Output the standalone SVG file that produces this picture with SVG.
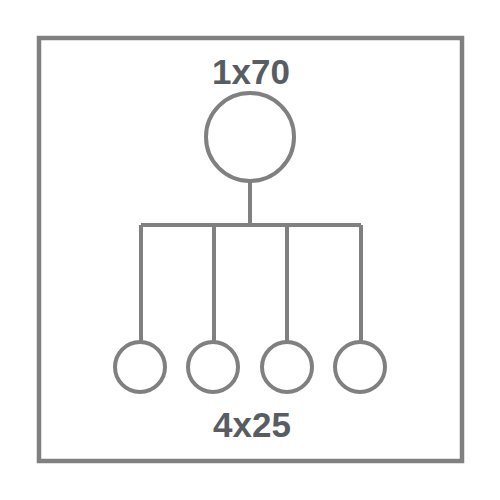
<svg xmlns="http://www.w3.org/2000/svg" width="500" height="500" viewBox="0 0 500 500">
<style>
.ln{stroke:#808080;stroke-width:4;fill:none}
.nd{stroke:#808080;stroke-width:4;fill:#fff}
.lb{font-family:"Liberation Sans",Arial,sans-serif;font-weight:bold;font-size:35px;fill:#585d63;text-anchor:middle}
</style>
<rect x="39" y="38" width="423" height="423" fill="#fff" stroke="#808080" stroke-width="4.5"/>
<g id="connectors">
<path class="ln" d="M250 182V225M141 225H361M141 225V341M214 225V341M287 225V341M361 225V341"/>
</g>
<g id="root"><circle class="nd" cx="250" cy="137" r="44"/><text class="lb" x="251" y="84">1x70</text></g>
<g id="c1"><circle class="nd" cx="140" cy="367" r="25"/></g>
<g id="c2"><circle class="nd" cx="213" cy="367" r="25"/></g>
<g id="c3"><circle class="nd" cx="287" cy="367" r="25"/></g>
<g id="c4"><circle class="nd" cx="360" cy="367" r="25"/></g>
<g id="label2"><text class="lb" x="252" y="437">4x25</text></g>
</svg>
